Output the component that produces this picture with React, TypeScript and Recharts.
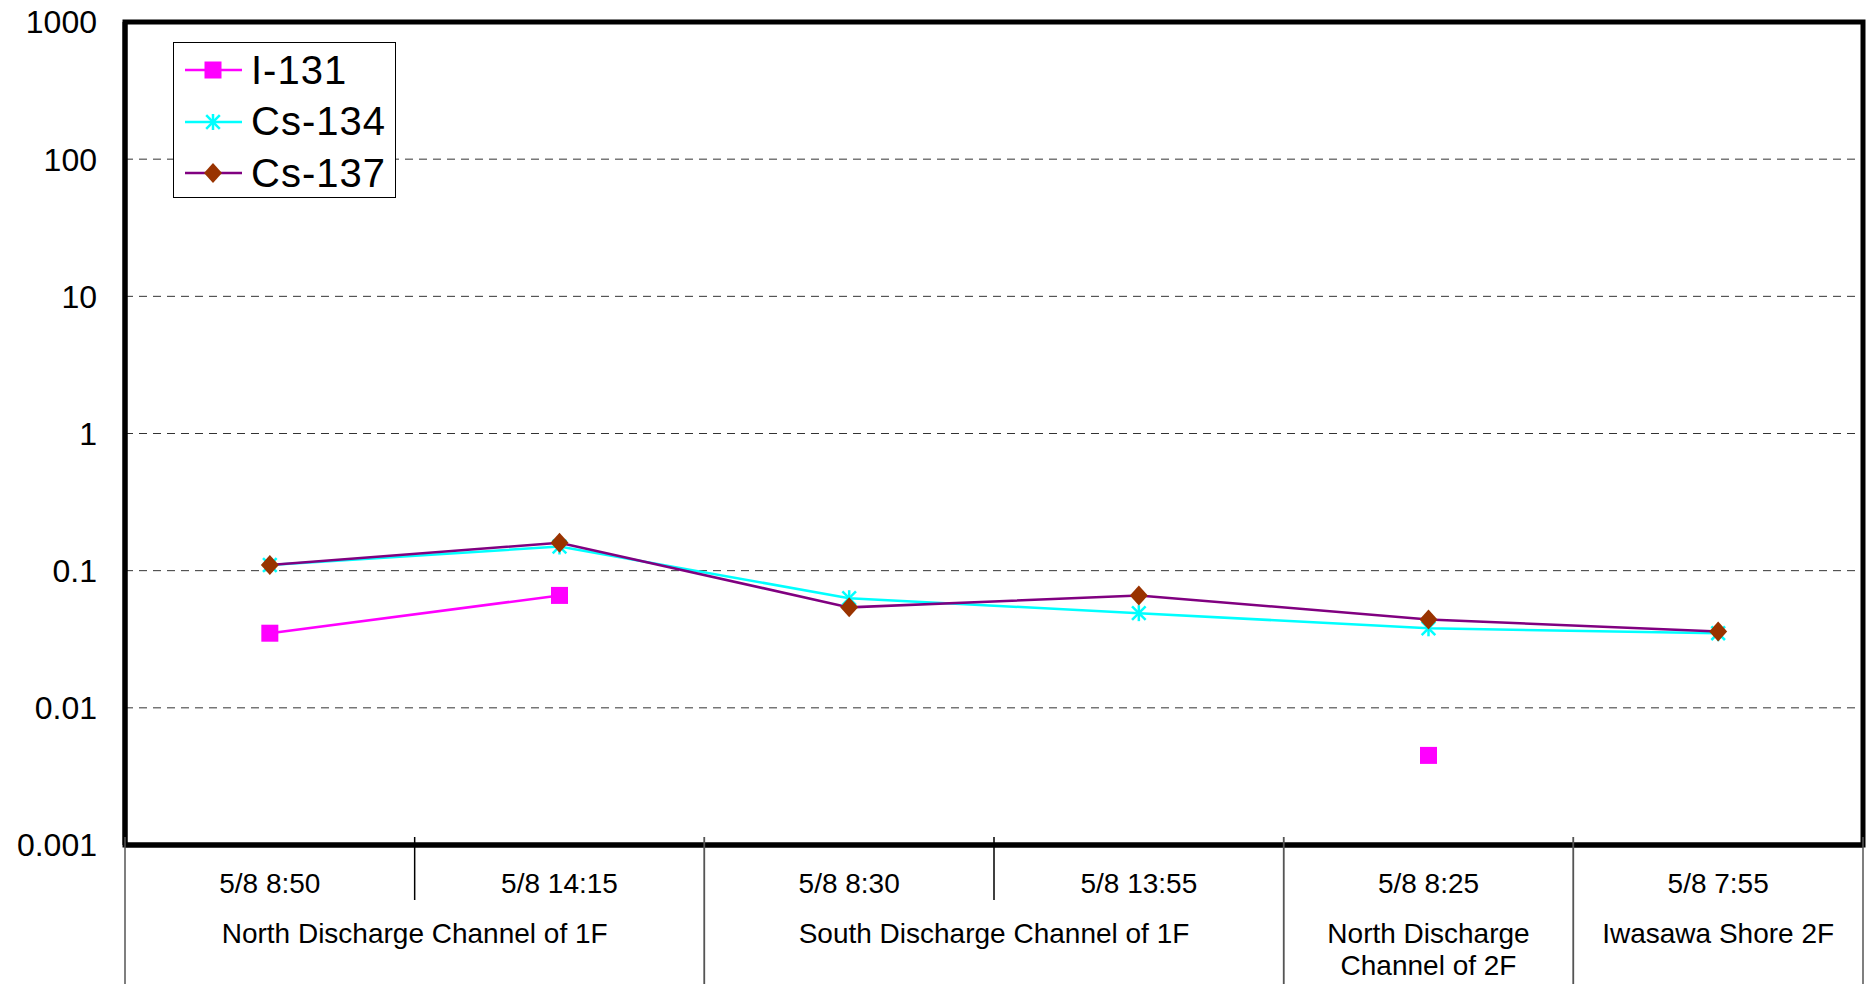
import React from "react";
import {
  LineChart, Line, XAxis, YAxis, CartesianGrid, Legend, ReferenceArea,
} from "recharts";

// sampling times (one per category) and their location groups
const times = ["5/8 8:50", "5/8 14:15", "5/8 8:30", "5/8 13:55", "5/8 8:25", "5/8 7:55"];
const groupOf = [0, 0, 1, 1, 2, 3];
const groupNames = [
  ["North Discharge Channel of 1F"],
  ["South Discharge Channel of 1F"],
  ["North Discharge", "Channel of 2F"],
  ["Iwasawa Shore 2F"],
];

// concentrations (log scale), null = not detected
const i131 = [0.035, 0.066, null, null, 0.0045, null];
const cs134 = [0.11, 0.15, 0.063, 0.049, 0.038, 0.035];
const cs137 = [0.11, 0.16, 0.054, 0.066, 0.044, 0.036];

const yTicks = [0.001, 0.01, 0.1, 1, 10, 100, 1000];

const W = 1868;
const H = 984;
const LEFT = 125;
const RIGHT = 5;
const TOP = 22;
const BOTTOM = 139;
const PLOT_W = W - LEFT - RIGHT;
const FONT = "'Liberation Sans', Arial, sans-serif";

const data = times.map((t, i) => ({ time: t, i131: i131[i], cs134: cs134[i], cs137: cs137[i] }));

const Square = ({ cx, cy, s = 17 }: { cx: number; cy: number; s?: number }) => (
  <rect x={cx - s / 2} y={cy - s / 2} width={s} height={s} fill="#ff00ff" />
);
const Star = ({ cx, cy, r = 8 }: { cx: number; cy: number; r?: number }) => (
  <g stroke="#00ffff" strokeWidth={2.5}>
    <line x1={cx} y1={cy - r} x2={cx} y2={cy + r} />
    <line x1={cx - r * 0.85} y1={cy - r * 0.85} x2={cx + r * 0.85} y2={cy + r * 0.85} />
    <line x1={cx + r * 0.85} y1={cy - r * 0.85} x2={cx - r * 0.85} y2={cy + r * 0.85} />
  </g>
);
const Diamond = ({ cx, cy, r = 10 }: { cx: number; cy: number; r?: number }) => (
  <path d={`M${cx},${cy - r}L${cx + r * 0.9},${cy}L${cx},${cy + r}L${cx - r * 0.9},${cy}Z`} fill="#993300" />
);

const makeDot = (name: string, Shape: React.FC<{ cx: number; cy: number }>) =>
  (p: { cx?: number; cy?: number; index?: number; value?: unknown }) => {
    if (p.cx == null || p.cy == null || p.value == null || Number.isNaN(p.cy)) return <g key={`${name}-${p.index}`} />;
    return <g key={`${name}-${p.index}`}><Shape cx={p.cx} cy={p.cy} /></g>;
  };

const series = [
  { key: "i131", name: "I-131", line: "#ff00ff", Shape: Square },
  { key: "cs134", name: "Cs-134", line: "#00ffff", Shape: Star },
  { key: "cs137", name: "Cs-137", line: "#800080", Shape: Diamond },
];

const CategoryTick = (props: { x?: number; y?: number; payload?: { value: string; index: number } }) => {
  const { x = 0, y = 0, payload } = props;
  const i = payload?.index ?? 0;
  const bw = PLOT_W / times.length;
  const g = groupOf[i];
  const first = i === 0 || groupOf[i - 1] !== g;
  const last = i === times.length - 1 || groupOf[i + 1] !== g;
  const span = groupOf.filter((v) => v === g).length;
  const left = x - bw / 2;
  const gx = left + (span * bw) / 2;
  return (
    <g>
      <line x1={left} y1={y - 8} x2={left} y2={first ? H : y + 55} stroke={first ? "#555" : "#000"} strokeWidth={1.5} />
      {last && <line x1={x + bw / 2} y1={y - 8} x2={x + bw / 2} y2={H} stroke="#555" strokeWidth={1.5} />}
      <text x={x} y={y + 48} textAnchor="middle" fontSize={28} fontFamily={FONT} fill="#000">{payload?.value}</text>
      {first && groupNames[g].map((ln, k) => (
        <text key={k} x={gx} y={y + 98 + k * 32} textAnchor="middle" fontSize={28} fontFamily={FONT} fill="#000">{ln}</text>
      ))}
    </g>
  );
};

const LegendBox = () => (
  <div style={{ width: 221, height: 154, border: "1px solid #000", background: "#fff", fontFamily: FONT }}>
    {series.map((s, i) => (
      <div key={s.key} style={{ position: "absolute", left: 0, top: 28 + i * 51.5 - 26, height: 52, display: "flex", alignItems: "center" }}>
        <svg width={78} height={52}>
          <line x1={12} y1={26} x2={69} y2={26} stroke={s.line} strokeWidth={2.5} />
          <s.Shape cx={40} cy={26} />
        </svg>
        <span style={{ fontSize: 40, color: "#000", letterSpacing: 1 }}>{s.name}</span>
      </div>
    ))}
  </div>
);

export default function App() {
  return (
    <div style={{ position: "absolute", left: 0, top: 0, width: W, height: H, background: "#fff" }}>
      <LineChart width={W} height={H} data={data} margin={{ top: TOP, right: RIGHT, left: 0, bottom: 0 }}>
        <CartesianGrid horizontal vertical={false} stroke="#333" strokeDasharray="8 6" />
        <XAxis
          dataKey="time"
          scale="band"
          height={BOTTOM}
          interval={0}
          tickSize={0}
          tickMargin={0}
          tickLine={false}
          axisLine={{ stroke: "#000", strokeWidth: 5 }}
          tick={<CategoryTick />}
        />
        <YAxis
          scale="log"
          domain={[0.001, 1000]}
          ticks={yTicks}
          allowDataOverflow
          width={LEFT}
          tickLine={false}
          tickSize={0}
          tickMargin={28}
          axisLine={{ stroke: "#000", strokeWidth: 5 }}
          tick={{ fill: "#000", fontSize: 32, fontFamily: FONT }}
          tickFormatter={(v: number) => String(v)}
          interval={0}
        />
        <ReferenceArea x1={times[0]} x2={times[times.length - 1]} y1={0.001} y2={1000}
          fill="none" fillOpacity={0} stroke="#000" strokeWidth={5} ifOverflow="visible" />
        <Legend layout="vertical" align="center" verticalAlign="middle"
          wrapperStyle={{ left: 173, top: 42, width: 223, height: 156 }} content={() => <LegendBox />} />
        {series.map((s) => (
          <Line
            key={s.key}
            dataKey={s.key}
            name={s.name}
            stroke={s.line}
            strokeWidth={2.5}
            dot={makeDot(s.key, s.Shape)}
            activeDot={false}
            isAnimationActive={false}
          />
        ))}
      </LineChart>
    </div>
  );
}
